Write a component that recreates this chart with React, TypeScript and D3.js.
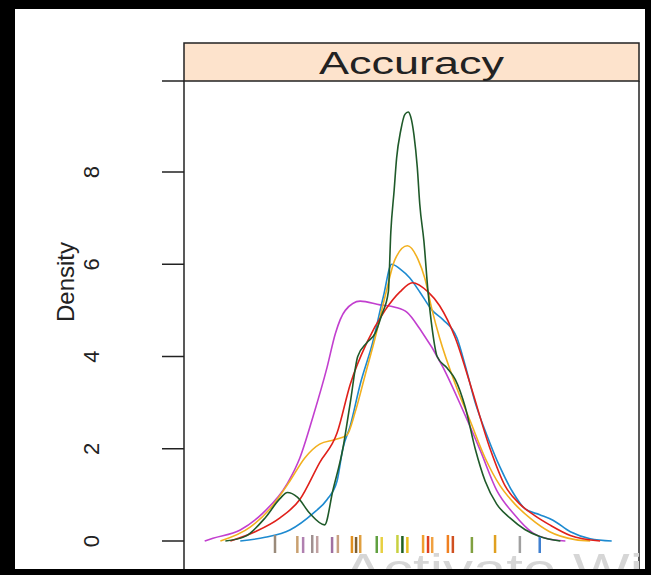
import React from "react";
import * as d3 from "d3";

const W = 651;
const H = 575;

// density curves: accuracy value / density
const magentaX = [0.475, 0.485, 0.518, 0.545, 0.575, 0.59, 0.606, 0.623, 0.633, 0.645, 0.663, 0.687, 0.705, 0.72, 0.735, 0.763, 0.787, 0.808, 0.828, 0.848, 0.872, 0.898, 0.911];
const magentaY = [0, 0.06, 0.24, 0.6, 1.25, 1.8, 2.7, 3.77, 4.5, 5.0, 5.2, 5.12, 5.07, 4.95, 4.6, 3.77, 2.84, 1.97, 1.1, 0.6, 0.17, 0.02, 0];

const blueX = [0.518, 0.548, 0.578, 0.606, 0.623, 0.635, 0.642, 0.651, 0.663, 0.678, 0.691, 0.701, 0.711, 0.723, 0.735, 0.75, 0.763, 0.78, 0.79, 0.802, 0.816, 0.832, 0.848, 0.862, 0.88, 0.896, 0.917, 0.941, 0.967];
const blueY = [0, 0.08, 0.24, 0.6, 0.9, 1.3, 2.0, 2.5, 3.4, 4.3, 5.3, 6.0, 5.9, 5.7, 5.4, 5.0, 4.8, 4.4, 3.8, 3.0, 2.3, 1.6, 1.04, 0.7, 0.57, 0.45, 0.2, 0.05, 0];

const orangeX = [0.494, 0.53, 0.554, 0.578, 0.596, 0.614, 0.633, 0.647, 0.657, 0.669, 0.681, 0.693, 0.705, 0.72, 0.733, 0.741, 0.75, 0.759, 0.778, 0.796, 0.814, 0.832, 0.85, 0.868, 0.892, 0.923, 0.941];
const orangeY = [0, 0.3, 0.7, 1.3, 1.8, 2.1, 2.2, 2.3, 2.8, 3.6, 4.4, 5.3, 6.1, 6.4, 6.1, 5.7, 5.0, 4.4, 3.4, 2.6, 1.8, 1.2, 0.8, 0.5, 0.2, 0.03, 0];

const redX = [0.506, 0.536, 0.566, 0.59, 0.614, 0.635, 0.651, 0.671, 0.693, 0.711, 0.726, 0.745, 0.759, 0.778, 0.796, 0.82, 0.838, 0.856, 0.874, 0.892, 0.917, 0.953];
const redY = [0, 0.2, 0.5, 0.9, 1.7, 2.34, 3.4, 4.3, 5.0, 5.4, 5.6, 5.4, 5.1, 4.4, 3.4, 2.0, 1.2, 0.8, 0.55, 0.35, 0.12, 0];

const greenX = [0.5, 0.524, 0.548, 0.566, 0.575, 0.587, 0.602, 0.62, 0.63, 0.642, 0.651, 0.66, 0.671, 0.681, 0.689, 0.697, 0.7, 0.704, 0.707, 0.712, 0.717, 0.721, 0.724, 0.728, 0.732, 0.735, 0.74, 0.745, 0.75, 0.756, 0.768, 0.778, 0.79, 0.802, 0.814, 0.828, 0.844, 0.862, 0.88, 0.905];
const greenY = [0, 0.1, 0.5, 0.92, 1.05, 0.95, 0.6, 0.35, 1.1, 2.0, 3.0, 4.0, 4.3, 4.5, 4.9, 5.4, 6.7, 7.6, 8.3, 8.9, 9.25, 9.3, 9.2, 8.8, 8.1, 7.3, 6.5, 5.4, 4.6, 4.0, 3.75, 3.5, 2.9, 2.0, 1.3, 0.8, 0.5, 0.25, 0.1, 0];

// rug marks under the curves
const rugX = [0.56, 0.587, 0.594, 0.605, 0.611, 0.629, 0.636, 0.653, 0.658, 0.663, 0.683, 0.689, 0.708, 0.714, 0.72, 0.739, 0.745, 0.75, 0.769, 0.775, 0.798, 0.826, 0.856, 0.88];
const rugColor = ["#9a8a7a", "#c9a070", "#b080b0", "#a09090", "#c0a0a0", "#a070a0", "#c8a080", "#e09020", "#806030", "#e0a040", "#60a040", "#e8d040", "#c8d040", "#206020", "#e8c020", "#f0a030", "#e04020", "#f0a040", "#f08020", "#d05020", "#80a040", "#e0a020", "#a0a0a0", "#4080d0"];

const yTicks = [0, 2, 4, 6, 8];

const series = [
  { x: magentaX, y: magentaY, color: "#c23fcf" },
  { x: blueX, y: blueY, color: "#1d8ad0" },
  { x: orangeX, y: orangeY, color: "#f2b01e" },
  { x: redX, y: redY, color: "#e0201a" },
  { x: greenX, y: greenY, color: "#1f5a2a" },
];

const font = "Liberation Sans, Arial, sans-serif";

export default function App() {
  const left = 184;
  const right = 639;
  const stripTop = 43;
  const stripBottom = 81;

  const x = d3.scaleLinear().domain([0.45, 1.0]).range([left, right]);
  const y = d3.scaleLinear().domain([0, 8]).range([541, 172]);

  const line = d3
    .line<[number, number]>()
    .x((d) => x(d[0]))
    .y((d) => y(d[1]))
    .curve(d3.curveMonotoneX);

  const y0 = y(0);

  return (
    <svg width={W} height={H} style={{ position: "absolute", left: 0, top: 0, display: "block" }} fontFamily={font}>
      <defs>
        <clipPath id="panel">
          <rect x={left} y={stripBottom} width={right - left} height={H - stripBottom} />
        </clipPath>
      </defs>
      <rect width={W} height={H} fill="#fff" />

      {/* strip */}
      <rect x={left} y={stripTop} width={right - left} height={stripBottom - stripTop} fill="#fde3cc" stroke="#222" strokeWidth={1.5} />
      <text x={(left + right) / 2} y={74} textAnchor="middle" fontSize={31} fill="#222" textLength={185} lengthAdjust="spacingAndGlyphs">
        Accuracy
      </text>

      {/* panel border */}
      <line x1={left} x2={left} y1={stripBottom} y2={H} stroke="#222" strokeWidth={1.5} />
      <line x1={right} x2={right} y1={stripBottom} y2={H} stroke="#222" strokeWidth={1.5} />
      <line x1={162} x2={left} y1={stripBottom} y2={stripBottom} stroke="#222" strokeWidth={1.5} />

      {/* y axis */}
      {yTicks.map((t) => (
        <g key={t}>
          <line x1={162} x2={left} y1={y(t)} y2={y(t)} stroke="#222" strokeWidth={1.5} />
          <text transform={`translate(99,${y(t)}) rotate(-90)`} textAnchor="middle" fontSize={22} fill="#222">
            {t}
          </text>
        </g>
      ))}
      <text transform="translate(74,282) rotate(-90)" textAnchor="middle" fontSize={24} fill="#222" textLength={80} lengthAdjust="spacingAndGlyphs">
        Density
      </text>

      <g clipPath="url(#panel)">
        {series.map((s, i) => (
          <path
            key={i}
            d={line(s.x.map((v, j) => [v, s.y[j]] as [number, number])) || ""}
            fill="none"
            stroke={s.color}
            strokeWidth={1.6}
          />
        ))}
        {rugX.map((v, i) => (
          <line key={i} x1={x(v)} x2={x(v)} y1={y0 - 6 + (i % 3)} y2={y0 + 12} stroke={rugColor[i]} strokeWidth={2.5} />
        ))}
      </g>

      {/* screen watermark, cut by the frame as in the screenshot */}
      <text x={343} y={585} fontSize={44} fill="#d6d6d6" textLength={300} lengthAdjust="spacingAndGlyphs">
        Activate Wi
      </text>

      {/* outer black frame */}
      <rect x={0} y={0} width={W} height={9} fill="#000" />
      <rect x={0} y={0} width={15} height={H} fill="#000" />
      <rect x={645} y={0} width={6} height={H} fill="#000" />
      <rect x={0} y={569} width={W} height={6} fill="#000" />
    </svg>
  );
}
